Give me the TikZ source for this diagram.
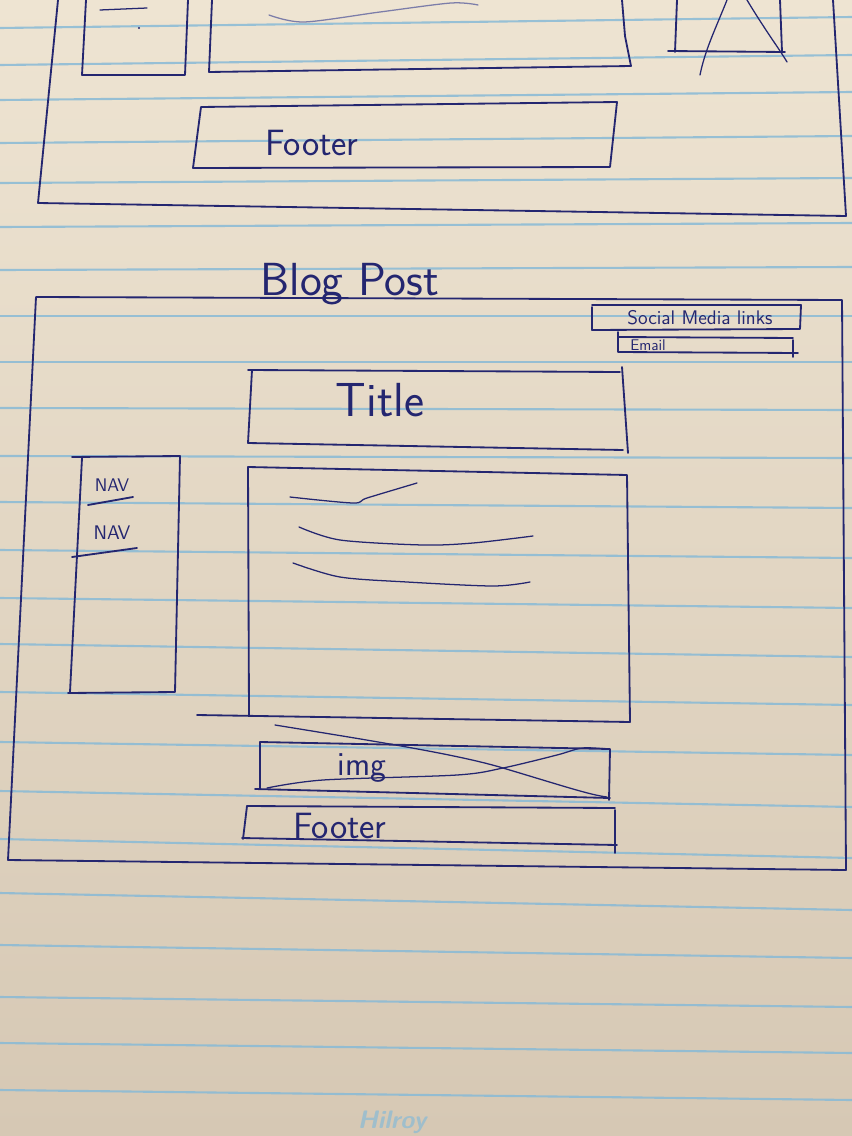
\documentclass[tikz,border=0pt]{standalone}
\usepackage{tikz}
\usetikzlibrary{positioning}
\definecolor{ink}{RGB}{36,38,112}
\definecolor{rule}{RGB}{136,186,214}
\definecolor{papertop}{RGB}{238,228,210}
\definecolor{paperbot}{RGB}{214,200,180}
\tikzset{
  pen/.style={draw=ink, line width=1.3pt, line cap=round, line join=round},
  thinpen/.style={draw=ink, line width=0.9pt, line cap=round},
  inktext/.style={text=ink, font=\sffamily, inner sep=0pt},
}
\newcommand{\handsize}[1]{\fontsize{#1}{#1}\selectfont}

\begin{document}
\begin{tikzpicture}[x=0.025cm, y=-0.025cm]
  \useasboundingbox (0,0) rectangle (852,1136);
  % Kertas
  \shade[top color=papertop, bottom color=paperbot] (0,0) rectangle (852,1136);
  % Garis biru
  \foreach \yl/\yr in {28/17, 65/55, 100/92, 143/136, 183/178, 227/223, 270/267,
      316/316, 362/362, 408/410, 456/458, 502/508, 550/558, 598/608, 644/657,
      692/705, 742/755, 791/807, 839/858, 893/910, 945/958, 997/1007,
      1043/1053, 1090/1100}
    \draw[rule, line width=1.5pt, opacity=0.85] (0,\yl) -- (852,\yr);
  \node[text=rule, font=\sffamily\itshape\bfseries\handsize{18}, opacity=0.7] (brand) at (392,1122) {Hilroy};

  % Halaman sebelumnya
  \draw[pen] (58,0) -- (38,203) -- (846,216) -- (833,0);
  \draw[pen] (86,0) -- (82,75) -- (185,75) -- (188,0);
  \draw[thinpen] (100,10) -- (147,8);
  \fill[ink] (139,28) circle (1.2);
  \draw[pen] (212,0) -- (209,72) -- (631,66) -- (625,36) -- (622,0);
  \draw[thinpen, draw=ink!60] plot[smooth] coordinates {(269,15) (304,22) (380,12) (451,3) (478,5)};
  % Gambar di halaman sebelumnya
  \draw[pen] (677,0) -- (675,52);
  \draw[pen] (668,51) -- (785,52);
  \draw[pen] (780,0) -- (782,52);
  \draw[thinpen] (727,0) .. controls (715,30) and (705,50) .. (700,75);
  \draw[thinpen] (747,0) .. controls (765,30) and (780,50) .. (787,62);
  % Footer atas
  \draw[pen] (201,107) -- (617,102) -- (610,167) -- (193,168) -- cycle;
  \node[inktext, font=\sffamily\handsize{26}] (footerA) at (312,143) {Footer};

  % Blog Post
  \node[inktext, font=\sffamily\handsize{33}] (blogpost) at (350,284) {Blog Post};
  \draw[pen] (36,297) -- (842,300) -- (846,870) -- (8,860) -- cycle;

  % Social media dan email
  \draw[pen] (592,307) -- (592,330) -- (800,329) -- (801,305) -- (592,305);
  \node[inktext, font=\sffamily\handsize{14}] (social) at (700,318) {Social Media links};
  \draw[pen] (618,332) -- (618,352) -- (798,353);
  \draw[pen] (618,337) -- (793,338);
  \draw[pen] (793,340) -- (793,357);
  \node[inktext, font=\sffamily\handsize{11}] (email) at (648,345.5) {Email};

  % Title
  \draw[pen] (248,370) -- (620,372);
  \draw[pen] (252,370) -- (248,443) -- (623,450);
  \draw[pen] (622,367) -- (628,453);
  \node[inktext, font=\sffamily\handsize{34}] (title) at (380,400) {Title};

  % Isi
  \draw[pen] (248,467) -- (627,475) -- (630,722) -- (197,715);
  \draw[pen] (248,467) -- (249,715);
  \draw[thinpen] plot[smooth] coordinates {(290,497) (353,503) (367,498) (417,483)};
  \draw[thinpen] plot[smooth] coordinates {(299,527) (340,540) (423,545) (473,543) (533,536)};
  \draw[thinpen] plot[smooth] coordinates {(293,563) (340,577) (407,582) (493,586) (530,582)};

  % NAV
  \draw[pen] (72,457) -- (180,456) -- (175,692) -- (68,693);
  \draw[pen] (82,458) -- (70,692);
  \node[inktext, font=\sffamily\handsize{13}] (navA) at (112,485) {NAV};
  \draw[pen] (88,505) -- (133,497);
  \node[inktext, font=\sffamily\handsize{14}] (navB) at (112,533) {NAV};
  \draw[pen] (72,557) -- (137,548);

  % img
  \draw[pen] (260,742) -- (610,749) -- (609,800);
  \draw[pen] (260,742) -- (260,789);
  \draw[pen] (255,789) -- (610,798);
  \draw[thinpen] (275,725) .. controls (380,742) and (460,755) .. (503,768) .. controls (560,785) and (590,795) .. (607,797);
  \draw[thinpen] plot[smooth] coordinates {(267,788) (323,780) (457,775) (503,768) (557,755) (582,748) (607,749)};
  \node[inktext, font=\sffamily\handsize{24}] (img) at (362,768) {img};

  % Footer bawah
  \draw[pen] (247,806) -- (615,808);
  \draw[pen] (247,806) -- (243,839);
  \draw[pen] (242,838) -- (617,845);
  \draw[pen] (615,810) -- (615,853);
  \node[inktext, font=\sffamily\handsize{26}] (footerB) at (340,826) {Footer};
\end{tikzpicture}
\end{document}
